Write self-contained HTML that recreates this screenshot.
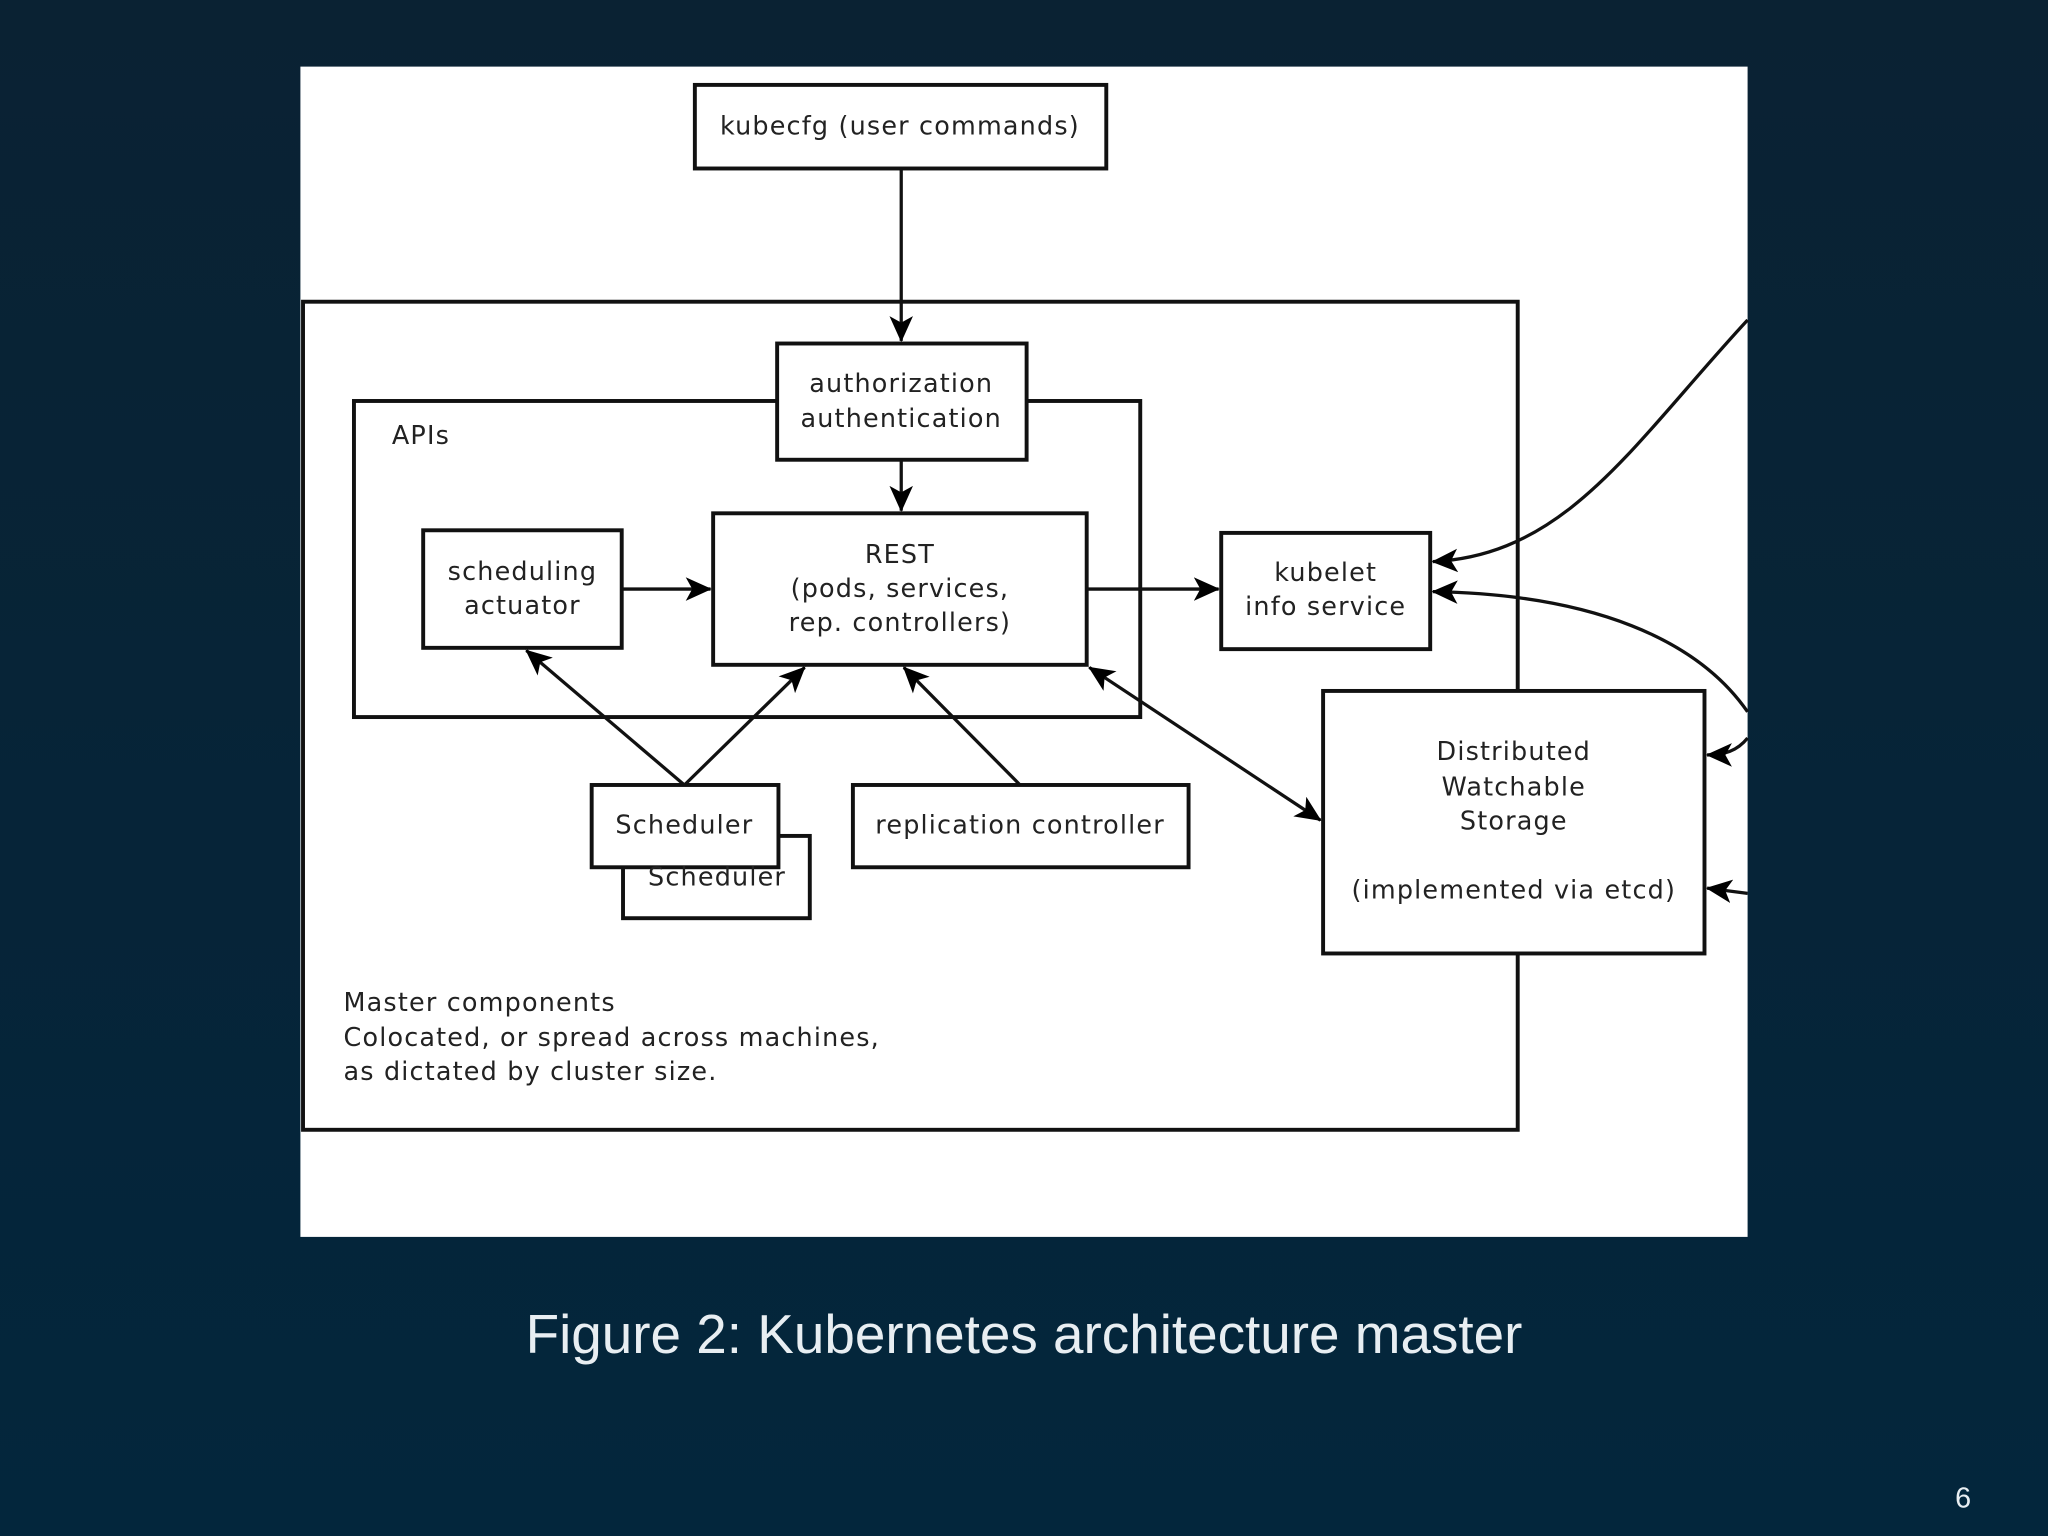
<!DOCTYPE html>
<html><head><meta charset="utf-8"><style>
html,body{margin:0;padding:0;width:2048px;height:1536px;overflow:hidden;background:#062335;}
svg{display:block}
</style></head><body>
<svg width="2048" height="1536" viewBox="0 0 1568 1176" xmlns="http://www.w3.org/2000/svg">
<defs>
<linearGradient id="bg" x1="0" y1="0" x2="0" y2="1"><stop offset="0" stop-color="#0a2233"/><stop offset="1" stop-color="#03263c"/></linearGradient>
<marker id="a" viewBox="0 0 20 20" refX="19" refY="10" markerWidth="20" markerHeight="20" markerUnits="userSpaceOnUse" orient="auto-start-reverse"><path d="M0,1 L20,10 L0,19 L5,10 z" fill="#000"/></marker>
</defs>
<rect width="1568" height="1176" fill="url(#bg)"/>
<rect x="230" y="51" width="1108" height="896" fill="#fff"/>
<g fill="none" stroke="#111" stroke-width="3">
<rect x="232" y="231" width="930" height="634" fill="#fff"/>
<rect x="271" y="307" width="602" height="242"/>
<rect x="532" y="65" width="315" height="64" fill="#fff"/>
<rect x="595" y="263" width="191" height="89" fill="#fff"/>
<rect x="546" y="393" width="286" height="116" fill="#fff"/>
<rect x="324" y="406" width="152" height="90" fill="#fff"/>
<rect x="935" y="408" width="160" height="89" fill="#fff"/>
<rect x="1013" y="529" width="292" height="201" fill="#fff"/>
<rect x="477" y="640" width="143" height="63" fill="#fff"/>
<rect x="453" y="601" width="143" height="63" fill="#fff"/>
<rect x="653" y="601" width="257" height="63" fill="#fff"/>
</g>
<g fill="none" stroke="#111" stroke-width="2.5" marker-end="url(#a)">
<line x1="690" y1="129" x2="690" y2="261"/>
<line x1="690" y1="352" x2="690" y2="391"/>
<line x1="476" y1="451" x2="544" y2="451"/>
<line x1="832" y1="451" x2="933" y2="451"/>
<line x1="524" y1="601" x2="403" y2="498"/>
<line x1="524" y1="601" x2="616" y2="511"/>
<line x1="781" y1="601" x2="692" y2="511"/>
<line x1="834" y1="511" x2="1011" y2="628" marker-start="url(#a)"/>
<path d="M1338,245 C1250,340 1200,425 1097,430"/>
<path d="M1338,545 C1300,490 1220,455 1097,453"/>
<path d="M1338,565 C1330,575 1320,578 1307,578"/>
<path d="M1338,684 L1307,680"/>
</g>
<g font-family="DejaVu Sans, Liberation Sans, sans-serif" font-size="19.5" letter-spacing="0.9" fill="#222" text-anchor="middle">
<text x="689" y="103">kubecfg (user commands)</text>
<text x="690" y="300">authorization</text>
<text x="690" y="327">authentication</text>
<text x="689" y="431">REST</text>
<text x="689" y="457">(pods, services,</text>
<text x="689" y="483">rep. controllers)</text>
<text x="400" y="444">scheduling</text>
<text x="400" y="470">actuator</text>
<text x="1015" y="445">kubelet</text>
<text x="1015" y="471">info service</text>
<text x="1159" y="582">Distributed</text>
<text x="1159" y="609">Watchable</text>
<text x="1159" y="635">Storage</text>
<text x="1159" y="688">(implemented via etcd)</text>
<text x="549" y="678">Scheduler</text>
<text x="524" y="638">Scheduler</text>
<text x="781" y="638">replication controller</text>
<text x="300" y="340" text-anchor="start">APIs</text>
<text x="263" y="774" text-anchor="start">Master components</text>
<text x="263" y="801" text-anchor="start">Colocated, or spread across machines,</text>
<text x="263" y="827" text-anchor="start">as dictated by cluster size.</text>
</g>
<text x="784" y="1036" font-family="Liberation Sans, sans-serif" font-size="42" fill="#e8eef2" text-anchor="middle">Figure 2:  Kubernetes architecture master</text>
<text x="1503" y="1154" font-family="Liberation Sans, sans-serif" font-size="22" fill="#e8eef2" text-anchor="middle">6</text>
</svg>
</body></html>
